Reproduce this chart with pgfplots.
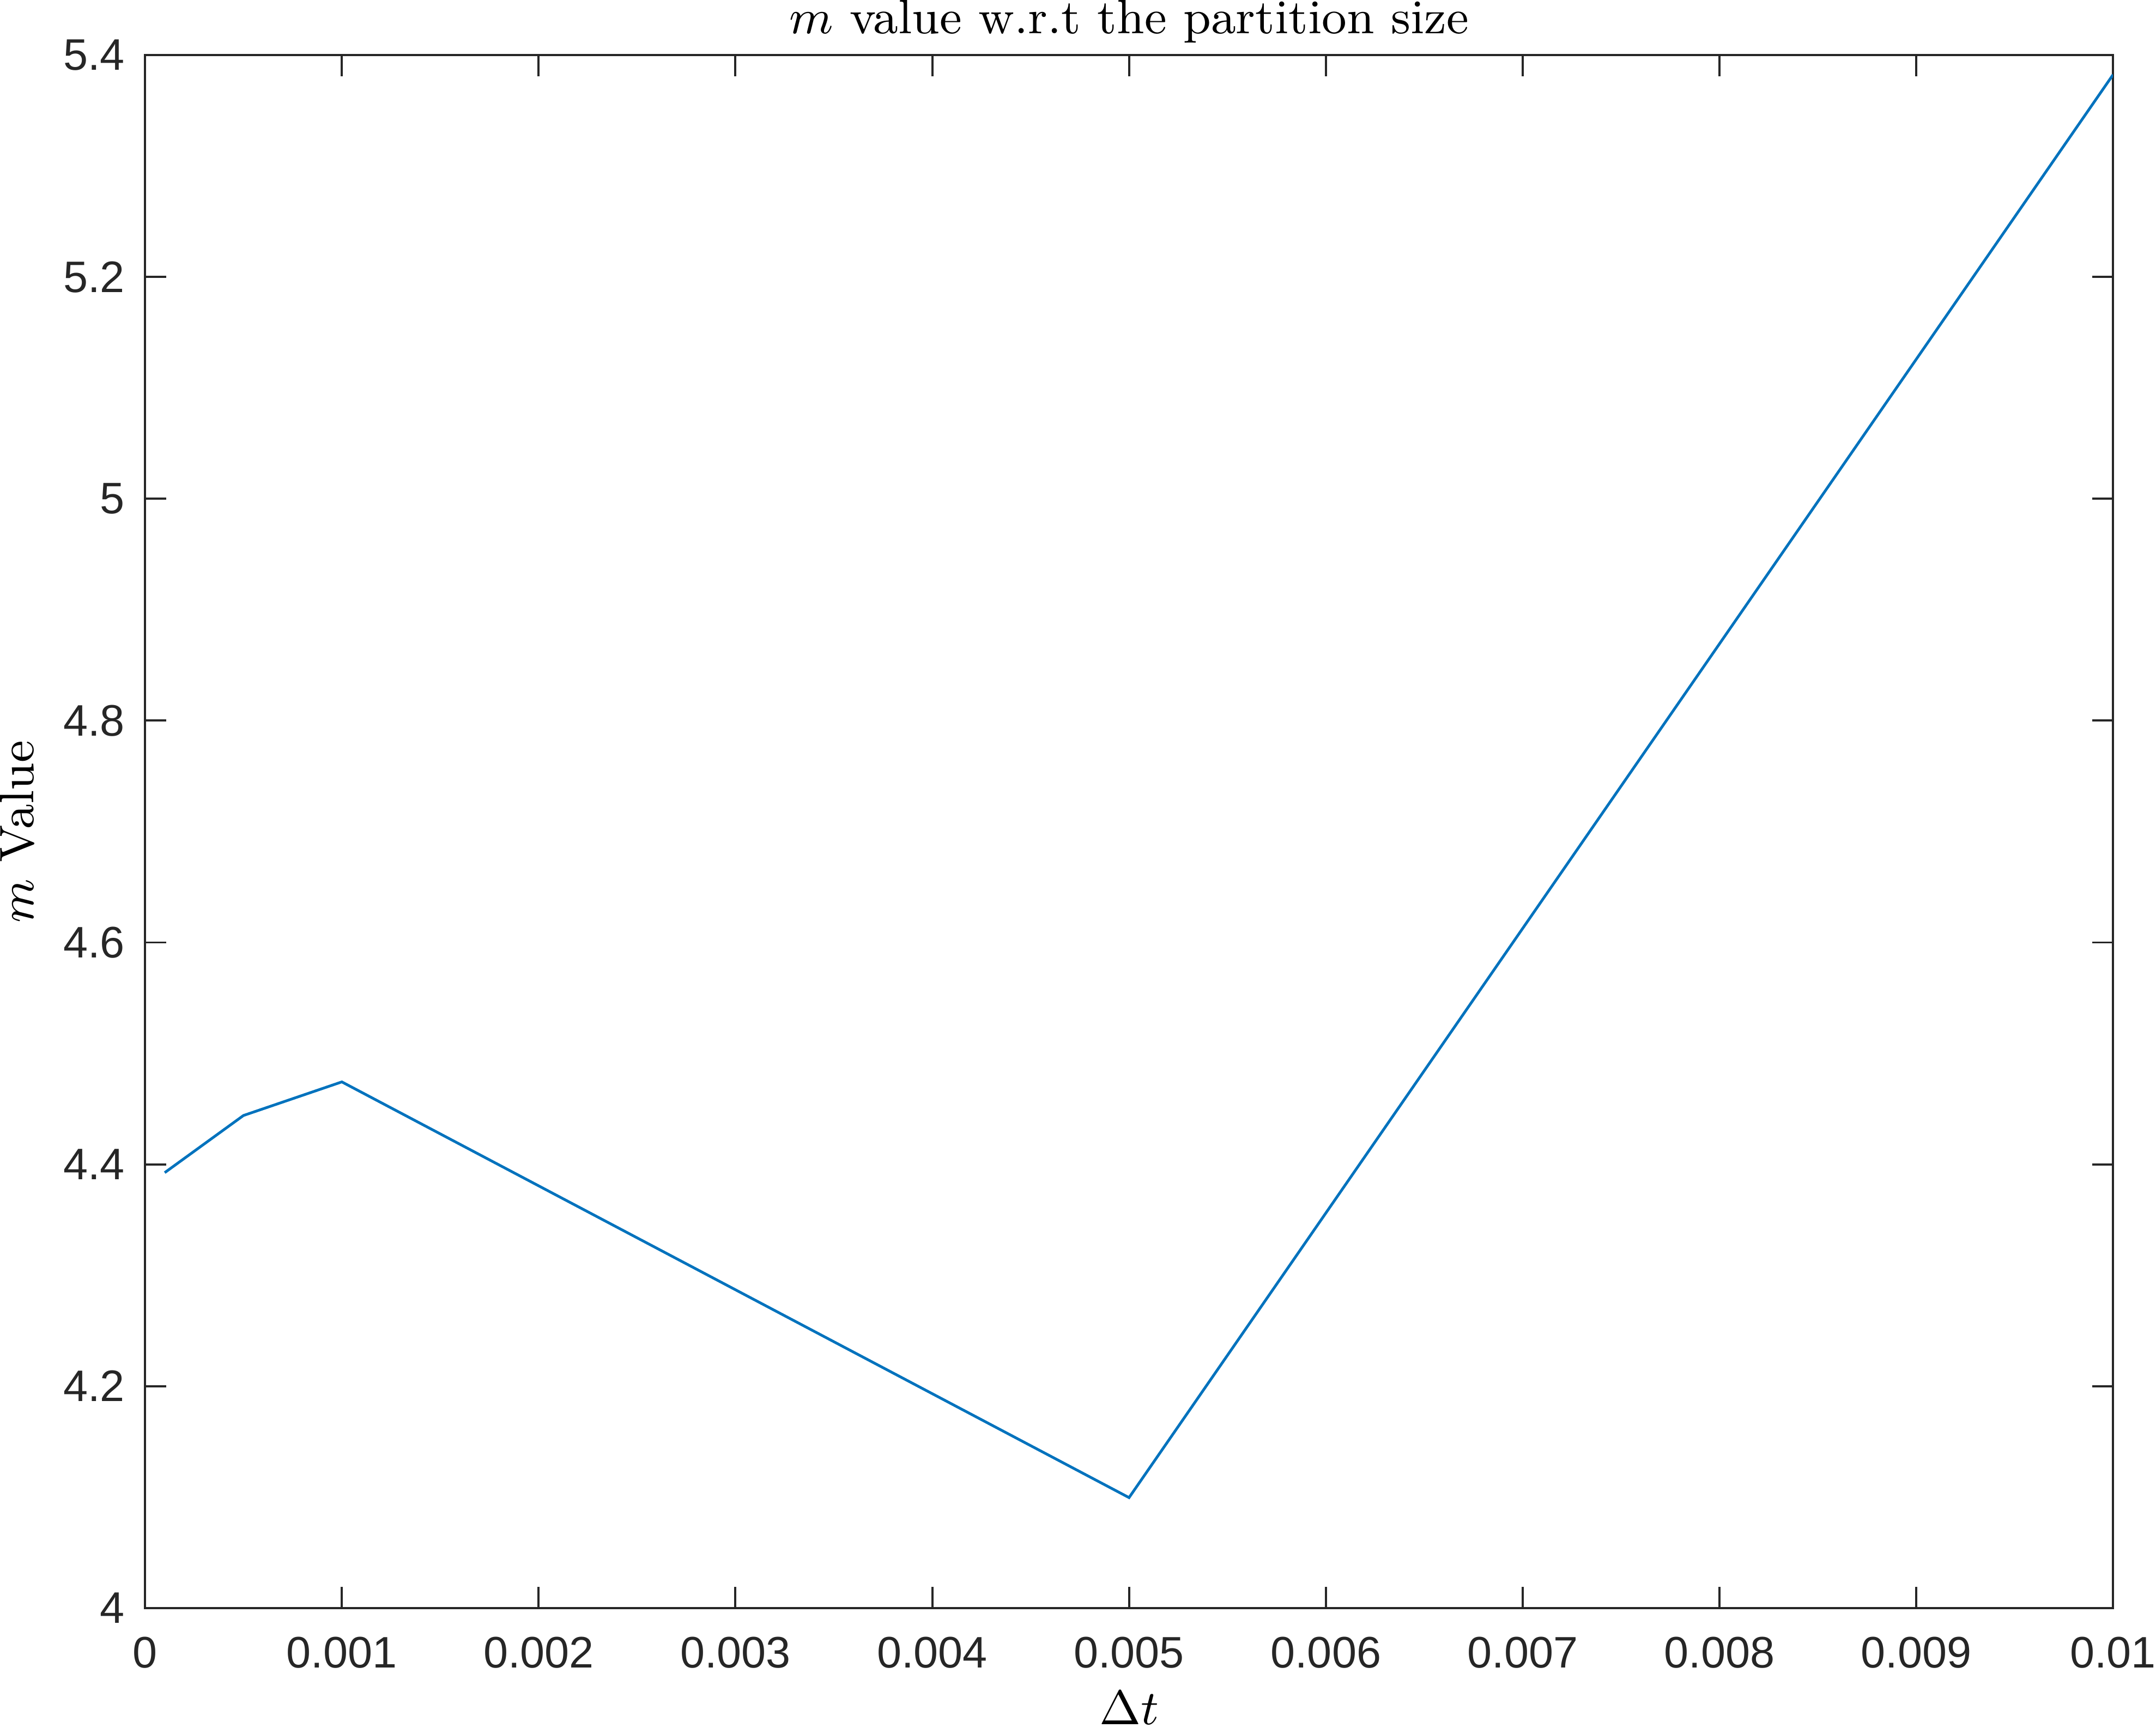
\documentclass[border=0pt]{standalone}
\usepackage{fontspec}
\usepackage{pgfplots}
\pgfplotsset{compat=1.18}
\newfontfamily\tickfont{Liberation Sans}
\definecolor{mblue}{rgb}{0,0.447,0.741}
\definecolor{axgray}{rgb}{0.15,0.15,0.15}
\begin{document}
\begin{tikzpicture}
\begin{axis}[
  scale only axis,
  width=365.6pt, height=288.5pt,
  xmin=0, xmax=0.01, ymin=4, ymax=5.4,
  scaled x ticks=false, scaled y ticks=false,
  xtick={0,0.001,0.002,0.003,0.004,0.005,0.006,0.007,0.008,0.009,0.01},
  xticklabels={0,0.001,0.002,0.003,0.004,0.005,0.006,0.007,0.008,0.009,0.01},
  ytick={4,4.2,4.4,4.6,4.8,5,5.2,5.4},
  yticklabels={4,4.2,4.4,4.6,4.8,5,5.2,5.4},
  tick align=inside,
  major tick length=3.9pt,
  axis line style={draw=axgray, line width=0.4pt},
  every tick/.style={draw=axgray, line width=0.4pt},
  ticklabel style={font=\tickfont\fontsize{8.2}{9.8}\selectfont, text=axgray, inner sep=0pt},
  xticklabel style={anchor=base, yshift=-11.1pt},
  yticklabel style={anchor=east, xshift=-3.6pt},
  title={$m$ value w.r.t the partition size},
  every axis title/.style={font=\fontsize{9}{11}\selectfont, at={(axis description cs:0.5,1)}, anchor=base, yshift=4pt, inner sep=0pt},
  xlabel={$\Delta t$},
  xlabel style={font=\fontsize{9}{11}\selectfont, at={([yshift=-21.6pt]axis description cs:0.5,0)}, anchor=base, inner xsep=0pt, inner ysep=0.6pt},
  ylabel={$m$ Value},
  ylabel style={font=\fontsize{9}{11}\selectfont, at={([xshift=-20.7pt]axis description cs:0,0.5)}, anchor=base, inner sep=0pt},
]
\addplot[mblue, line width=0.5pt, no marks] coordinates {
  (0.0001,4.3925) (0.0005,4.4440) (0.001,4.4743) (0.005,4.0995) (0.01,5.3824)
};
\end{axis}
\end{tikzpicture}
\end{document}
